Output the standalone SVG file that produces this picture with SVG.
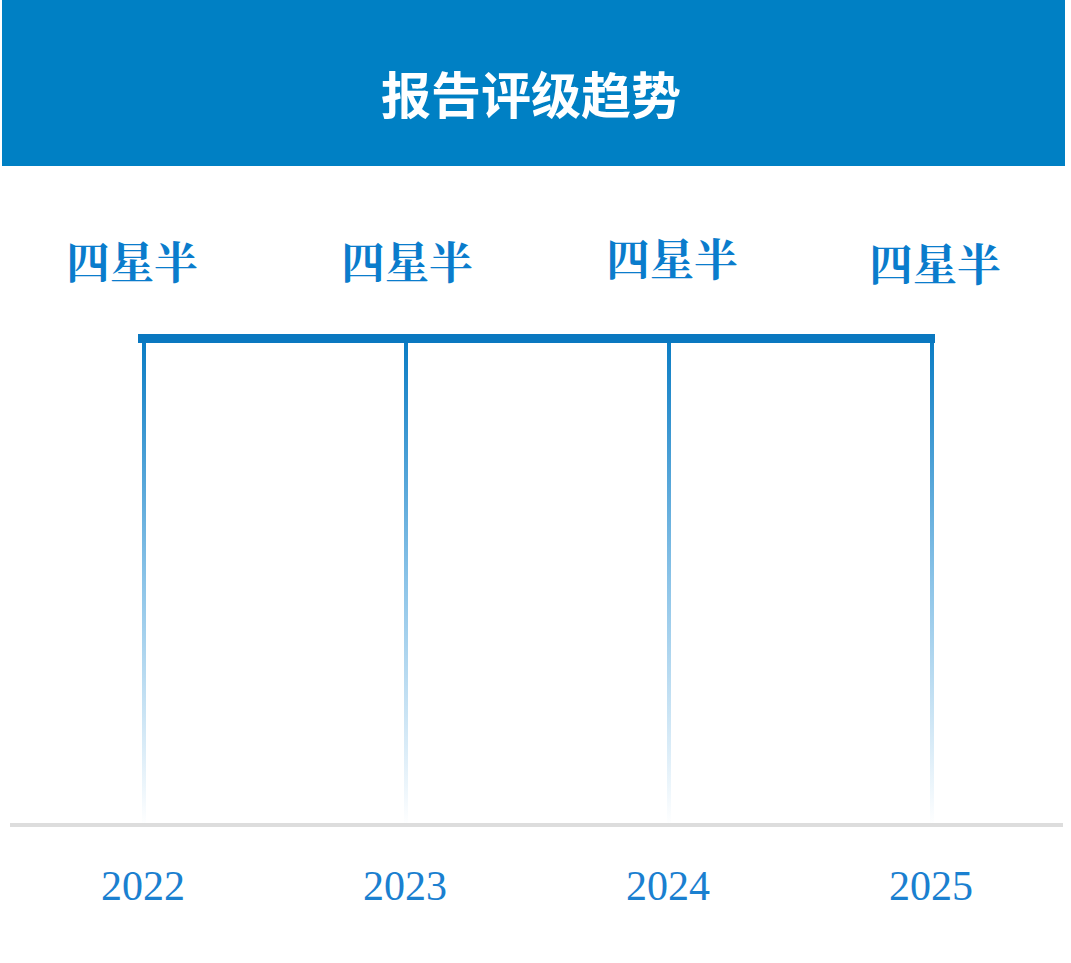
<svg xmlns="http://www.w3.org/2000/svg" width="1071" height="963" viewBox="0 0 1071 963">
<style>
.t{font-family:"Noto Sans CJK SC",sans-serif;font-weight:bold;fill:#fff;font-size:50px;text-anchor:middle}
.r{font-family:"Noto Serif CJK SC","Noto Sans CJK SC",serif;font-weight:bold;fill:#0a7ccc;font-size:44px;text-anchor:middle}
.y{font-family:"Liberation Serif",serif;fill:#1a80d0;font-size:42px;text-anchor:middle}
</style>
<defs>
<linearGradient id="g" x1="0" y1="0" x2="0" y2="1">
<stop offset="0" stop-color="#0a7cc4"/>
<stop offset="0.5" stop-color="#8cc4e8"/>
<stop offset="1" stop-color="#ffffff"/>
</linearGradient>
</defs>
<rect width="1071" height="963" fill="#fff"/>
<g id="header">
<rect x="2" y="0" width="1063" height="166" fill="#0080c4"/>
<text class="t" x="531" y="114">报告评级趋势</text>
</g>
<g id="connectors">
<rect x="142" y="339" width="4" height="486" fill="url(#g)"/>
<rect x="404" y="339" width="4" height="486" fill="url(#g)"/>
<rect x="667" y="339" width="4" height="486" fill="url(#g)"/>
<rect x="930" y="339" width="4" height="486" fill="url(#g)"/>
<rect x="138" y="334" width="797" height="9" fill="#0a78c0"/>
<rect x="10" y="823" width="1053" height="4" fill="#dddddd"/>
</g>
<g id="r2022"><text class="r" x="132" y="279">四星半</text></g>
<g id="r2023"><text class="r" x="407" y="279">四星半</text></g>
<g id="r2024"><text class="r" x="672" y="276">四星半</text></g>
<g id="r2025"><text class="r" x="935" y="281">四星半</text></g>
<g id="y2022"><text class="y" x="143" y="900">2022</text></g>
<g id="y2023"><text class="y" x="405" y="900">2023</text></g>
<g id="y2024"><text class="y" x="668" y="900">2024</text></g>
<g id="y2025"><text class="y" x="931" y="900">2025</text></g>
</svg>
